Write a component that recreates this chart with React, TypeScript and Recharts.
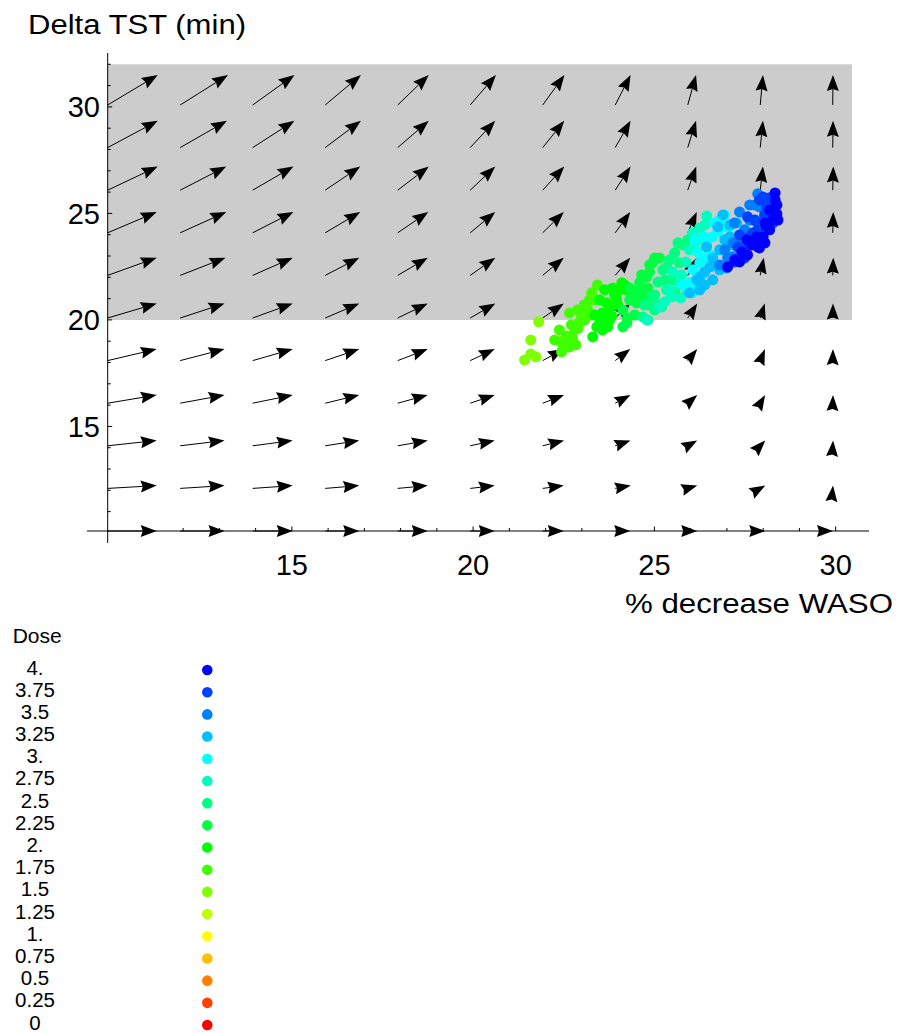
import React from "react";
import { ScatterChart, Scatter, XAxis, YAxis, ReferenceArea, ReferenceLine } from "recharts";

const FONT = '"Liberation Sans", Arial, Helvetica, sans-serif';

// vector field grid (arrow tails)
const gridX = [9.92, 11.92, 13.92, 15.92, 17.92, 19.92, 21.92, 23.92, 25.92, 27.92, 29.92];
const gridY = [10.09, 12.09, 14.09, 16.09, 18.09, 20.09, 22.09, 24.09, 26.09, 28.09, 30.09];

// horizontal component per arrow, rows bottom -> top
const arrowU = [
  [1.352, 1.223, 1.104, 0.938, 0.828, 0.676, 0.58, 0.414, 0.262, 0.138, 0.006],
  [1.352, 1.223, 1.104, 0.938, 0.828, 0.676, 0.58, 0.43, 0.262, 0.138, 0.008],
  [1.352, 1.223, 1.104, 0.938, 0.828, 0.676, 0.59, 0.42, 0.262, 0.138, 0.01],
  [1.352, 1.223, 1.104, 0.938, 0.828, 0.676, 0.59, 0.42, 0.262, 0.135, 0.008],
  [1.352, 1.223, 1.104, 0.938, 0.828, 0.676, 0.58, 0.414, 0.262, 0.13, 0.006],
  [1.352, 1.223, 1.104, 0.938, 0.828, 0.69, 0.58, 0.414, 0.262, 0.124, 0.008],
  [1.352, 1.25, 1.104, 0.938, 0.828, 0.69, 0.58, 0.414, 0.248, 0.097, 0.014],
  [1.352, 1.27, 1.123, 0.966, 0.842, 0.69, 0.58, 0.414, 0.248, 0.083, 0.014],
  [1.38, 1.27, 1.123, 0.966, 0.856, 0.69, 0.593, 0.422, 0.235, 0.075, 0.014],
  [1.38, 1.289, 1.151, 0.985, 0.856, 0.69, 0.593, 0.422, 0.229, 0.075, 0.008],
  [1.38, 1.317, 1.151, 0.985, 0.856, 0.709, 0.599, 0.422, 0.229, 0.075, 0.006],
];
// vertical component per row, bottom -> top
const rowV = [0, 0.131, 0.248, 0.384, 0.539, 0.68, 0.83, 0.975, 1.111, 1.256, 1.406];

const xTicks = [11, 12, 13, 14, 15, 16, 17, 18, 19, 20, 21, 22, 23, 24, 25, 26, 27, 28, 29, 30];
const yTicks = [11, 12, 13, 14, 15, 16, 17, 18, 19, 20, 21, 22, 23, 24, 25, 26, 27, 28, 29, 30, 31, 32];

const doseLabels = ["4.", "3.75", "3.5", "3.25", "3.", "2.75", "2.5", "2.25", "2.", "1.75", "1.5", "1.25", "1.", "0.75", "0.5", "0.25", "0"];
const doseColors = ["#0000ff", "#0040ff", "#0080ff", "#00bfff", "#00ffff", "#00ffbf", "#00ff80", "#00ff40", "#00ff00", "#40ff00", "#80ff00", "#bfff00", "#ffff00", "#ffbf00", "#ff8000", "#ff4000", "#ff0000"];

// simulated outcomes, [% decrease WASO, delta TST]
const dose150 = [[21.81, 19.91], [21.59, 19.06], [21.42, 18.12], [21.59, 18.4], [21.73, 18.26]];
const dose175 = [
  [22.38, 19.53], [22.25, 19.06], [22.66, 18.73], [22.44, 18.5], [22.74, 19.15], [22.71, 19.77],
  [22.66, 20.33], [22.99, 20.23], [23.07, 20.7], [23.27, 21.27], [23.43, 21.64], [22.9, 19.62],
  [22.52, 19.06], [22.94, 19.91], [23.16, 20.47], [22.83, 18.83], [22.58, 19.25], [23.21, 20.94],
  [22.8, 19.53], [23.07, 20.0], [23.35, 20.94], [22.47, 18.83], [23.21, 20.23], [22.88, 20.47],
];
const dose200 = [
  [23.3, 19.2], [23.49, 19.86], [23.57, 20.33], [23.68, 20.8], [23.85, 21.5], [24.1, 21.74],
  [23.96, 20.94], [23.71, 19.67], [23.77, 20.56], [23.63, 19.91], [24.04, 21.41], [24.23, 21.41],
  [23.49, 20.94], [23.41, 19.67], [23.82, 20.19], [23.99, 20.7], [23.57, 19.53], [23.9, 21.17],
  [24.18, 21.64], [23.77, 20.0], [23.35, 20.23], [23.63, 21.41],
];
const dose225 = [
  [24.13, 20.47], [24.24, 19.86], [24.37, 21.08], [24.59, 21.74], [24.79, 22.02], [24.95, 22.68],
  [24.51, 20.8], [24.13, 19.67], [24.32, 21.5], [24.73, 21.41], [24.46, 20.23], [24.87, 22.25],
  [25.01, 22.91], [24.82, 21.5], [24.59, 21.03], [24.32, 20.94], [24.65, 22.11], [24.87, 22.58],
  [24.26, 20.09], [24.54, 21.41], [25.14, 22.91], [24.73, 20.94],
];
const dose250 = [
  [24.68, 20.14], [24.82, 20.0], [24.95, 21.08], [25.2, 20.61], [25.34, 21.41], [25.48, 21.88],
  [25.65, 23.62], [25.56, 23.15], [25.23, 22.35], [25.69, 22.68], [25.1, 21.78], [25.34, 22.49],
  [24.73, 20.7], [25.14, 20.7], [25.01, 21.17], [25.01, 20.47], [25.29, 21.88], [25.42, 22.82],
  [25.78, 23.52], [24.87, 20.7], [25.56, 21.31], [25.92, 23.76],
];
const dose275 = [
  [25.48, 21.08], [26.44, 24.88], [26.66, 24.55], [26.06, 24.08], [25.97, 23.29], [24.79, 20.0],
  [25.14, 20.61], [25.75, 22.11], [26.17, 23.76], [25.9, 21.31], [25.51, 22.25], [25.29, 20.85],
  [26.25, 24.32], [25.69, 21.64], [25.87, 22.72], [26.14, 23.29], [26.39, 24.46], [25.39, 21.41],
  [25.73, 21.03], [26.25, 23.76],
];
const dose300 = [
  [26.04, 21.27], [25.79, 21.64], [26.06, 22.35], [26.25, 22.68], [26.44, 23.62], [26.61, 23.9],
  [26.94, 24.93], [27.0, 24.37], [26.39, 23.9], [26.19, 23.19], [26.11, 23.76], [25.97, 21.74],
  [25.9, 21.55], [26.66, 24.55], [27.08, 24.37], [26.25, 22.11], [26.53, 23.05], [26.75, 24.13],
  [26.11, 21.64], [26.8, 24.69], [26.39, 22.91],
];
const dose325 = [
  [26.17, 21.88], [26.39, 22.25], [26.61, 22.91], [26.8, 23.29], [26.53, 22.49], [27.08, 23.9],
  [27.27, 24.55], [26.61, 21.88], [26.89, 24.93], [26.75, 24.37], [26.44, 23.43], [26.25, 22.02],
  [25.97, 21.27], [27.16, 23.52], [26.66, 22.58], [26.94, 23.76], [26.39, 21.64], [27.08, 24.46],
  [26.8, 22.35], [26.25, 21.41],
];
const dose350 = [
  [27.0, 22.44], [26.94, 23.29], [27.35, 25.07], [27.85, 25.92], [27.9, 25.31], [27.16, 23.62],
  [27.49, 24.23], [26.8, 22.58], [27.63, 25.4], [27.21, 24.55], [27.55, 23.99], [27.82, 24.6],
  [27.16, 22.96], [27.35, 23.76], [27.63, 24.69], [27.02, 22.91], [27.77, 25.4], [27.49, 23.29],
];
const dose375 = [
  [27.21, 22.72], [27.44, 23.29], [27.63, 23.9], [27.77, 24.69], [27.99, 25.77], [28.1, 25.31],
  [28.24, 24.84], [27.9, 25.63], [27.57, 24.84], [27.3, 23.43], [27.82, 23.62], [28.18, 25.4],
  [28.27, 24.55], [27.71, 24.08], [27.49, 22.91], [28.04, 24.93], [27.85, 24.23], [27.35, 23.99],
  [28.18, 25.73],
];
const dose400 = [
  [28.33, 25.96], [28.38, 25.4], [28.27, 24.69], [28.1, 24.37], [27.82, 23.9], [27.85, 23.43],
  [27.55, 23.76], [28.18, 25.16], [28.05, 24.55], [27.41, 23.19], [27.21, 22.82], [27.02, 22.49],
  [28.38, 24.98], [28.0, 23.9], [28.18, 24.23], [27.68, 23.52], [27.9, 23.38], [28.33, 25.63],
  [27.57, 23.05], [28.41, 24.69], [28.05, 23.62], [27.35, 22.72],
];

const series = [
  { color: "#80ff00", pts: dose150 },
  { color: "#40ff00", pts: dose175 },
  { color: "#00ff00", pts: dose200 },
  { color: "#00ff40", pts: dose225 },
  { color: "#00ff80", pts: dose250 },
  { color: "#00ffbf", pts: dose275 },
  { color: "#00ffff", pts: dose300 },
  { color: "#00bfff", pts: dose325 },
  { color: "#0080ff", pts: dose350 },
  { color: "#0040ff", pts: dose375 },
  { color: "#0000ff", pts: dose400 },
];

const ArrowShape = (p: any) => {
  const { x1, y1, x2, y2 } = p;
  const dx = x2 - x1;
  const dy = y2 - y1;
  const len = Math.hypot(dx, dy);
  const ux = len > 0.01 ? dx / len : 1;
  const uy = len > 0.01 ? dy / len : 0;
  const L = 16, W = 6, N = 2;
  const bx = x2 - ux * L, by = y2 - uy * L;
  const nx = x2 - ux * (L - N), ny = y2 - uy * (L - N);
  const d = `M${x2},${y2} L${bx - uy * W},${by + ux * W} L${nx},${ny} L${bx + uy * W},${by - ux * W} Z`;
  return (
    <g>
      {len > L - N && <line x1={x1} y1={y1} x2={nx} y2={ny} stroke="#000" strokeWidth={1} />}
      <path d={d} fill="#000" />
    </g>
  );
};

const AxisLine = (p: any) => <line x1={p.x1} y1={p.y1} x2={p.x2} y2={p.y2} stroke="#000" strokeWidth={1} />;

const XTick = (props: any) => {
  const { x, y, payload } = props;
  const v = payload.value;
  const major = v % 5 === 0;
  return (
    <g>
      <line x1={x} x2={x} y1={y} y2={y - (major ? 4.5 : 3)} stroke="#000" />
      {major && (
        <text x={x} y={y + 44} textAnchor="middle" fontSize={29} fontFamily={FONT} fill="#000">
          {v}
        </text>
      )}
    </g>
  );
};

const YTick = (props: any) => {
  const { x, y, payload } = props;
  const v = payload.value;
  const major = v % 5 === 0;
  return (
    <g>
      <line x1={x} x2={x + (major ? 4.5 : 3)} y1={y} y2={y} stroke="#000" />
      {major && (
        <text x={x - 7.7} y={y + 10.4} textAnchor="end" fontSize={29} fontFamily={FONT} fill="#000">
          {v}
        </text>
      )}
    </g>
  );
};

export default function App() {
  const arrows: any[] = [];
  gridY.forEach((gy, j) => {
    gridX.forEach((gx, k) => {
      arrows.push(
        <ReferenceLine
          key={`a-${j}-${k}`}
          segment={[{ x: gx, y: gy }, { x: gx + arrowU[j][k], y: gy + rowV[j] }]}
          ifOverflow="visible"
          shape={ArrowShape}
          zIndex={50}
        />
      );
    });
  });

  return (
    <div style={{ position: "absolute", left: 0, top: 0, width: 915, height: 1034, background: "#fff", fontFamily: FONT }}>
      <ScatterChart width={915} height={640} margin={{ top: 53, right: 46, bottom: 79, left: 47.7 }}>
        <XAxis
          type="number"
          dataKey="x"
          domain={[9.92, 30.92]}
          allowDataOverflow
          ticks={xTicks}
          interval={0}
          axisLine={false}
          tickLine={false}
          tickSize={0}
          tickMargin={0}
          height={30}
          tick={(p: any) => <XTick {...p} />}
        />
        <YAxis
          type="number"
          dataKey="y"
          domain={[10.09, 32.53]}
          allowDataOverflow
          ticks={yTicks}
          interval={0}
          axisLine={false}
          tickLine={false}
          tickSize={0}
          tickMargin={0}
          width={60}
          tick={(p: any) => <YTick {...p} />}
        />
        <ReferenceArea x1={9.92} x2={30.45} y1={20} y2={32} fill="#cccccc" fillOpacity={1} stroke="none" ifOverflow="visible" zIndex={-50} />
        {arrows}
        <ReferenceLine segment={[{ x: 9.35, y: 10.09 }, { x: 30.92, y: 10.09 }]} ifOverflow="visible" shape={AxisLine} zIndex={60} />
        <ReferenceLine segment={[{ x: 9.92, y: 9.53 }, { x: 9.92, y: 32.53 }]} ifOverflow="visible" shape={AxisLine} zIndex={60} />
        {series.map((s, i) => (
          <Scatter
            key={i}
            data={s.pts.map(([x, y]) => ({ x, y }))}
            isAnimationActive={false}
            zIndex={600}
            shape={(p: any) => <circle cx={p.cx} cy={p.cy} r={5.5} fill={s.color} />}
          />
        ))}
      </ScatterChart>
      <svg width={915} height={1034} style={{ position: "absolute", left: 0, top: 0, pointerEvents: "none" }}>
        <text x={28} y={33.5} fontSize={27} fontFamily={FONT} textLength={218} lengthAdjust="spacingAndGlyphs" fill="#000">
          Delta TST (min)
        </text>
        <text x={625} y={613} fontSize={27} fontFamily={FONT} textLength={268} lengthAdjust="spacingAndGlyphs" fill="#000">
          % decrease WASO
        </text>
        <text x={12.7} y={642.7} fontSize={21} fontFamily={FONT} fill="#000">
          Dose
        </text>
        {doseLabels.map((lab, i) => {
          const cy = 670 + 22.19 * i;
          return (
            <g key={lab}>
              <text x={35} y={cy + 4.5} textAnchor="middle" fontSize={20.5} fontFamily={FONT} fill="#000">
                {lab}
              </text>
              <circle cx={207.3} cy={cy} r={5.3} fill={doseColors[i]} />
            </g>
          );
        })}
      </svg>
    </div>
  );
}
